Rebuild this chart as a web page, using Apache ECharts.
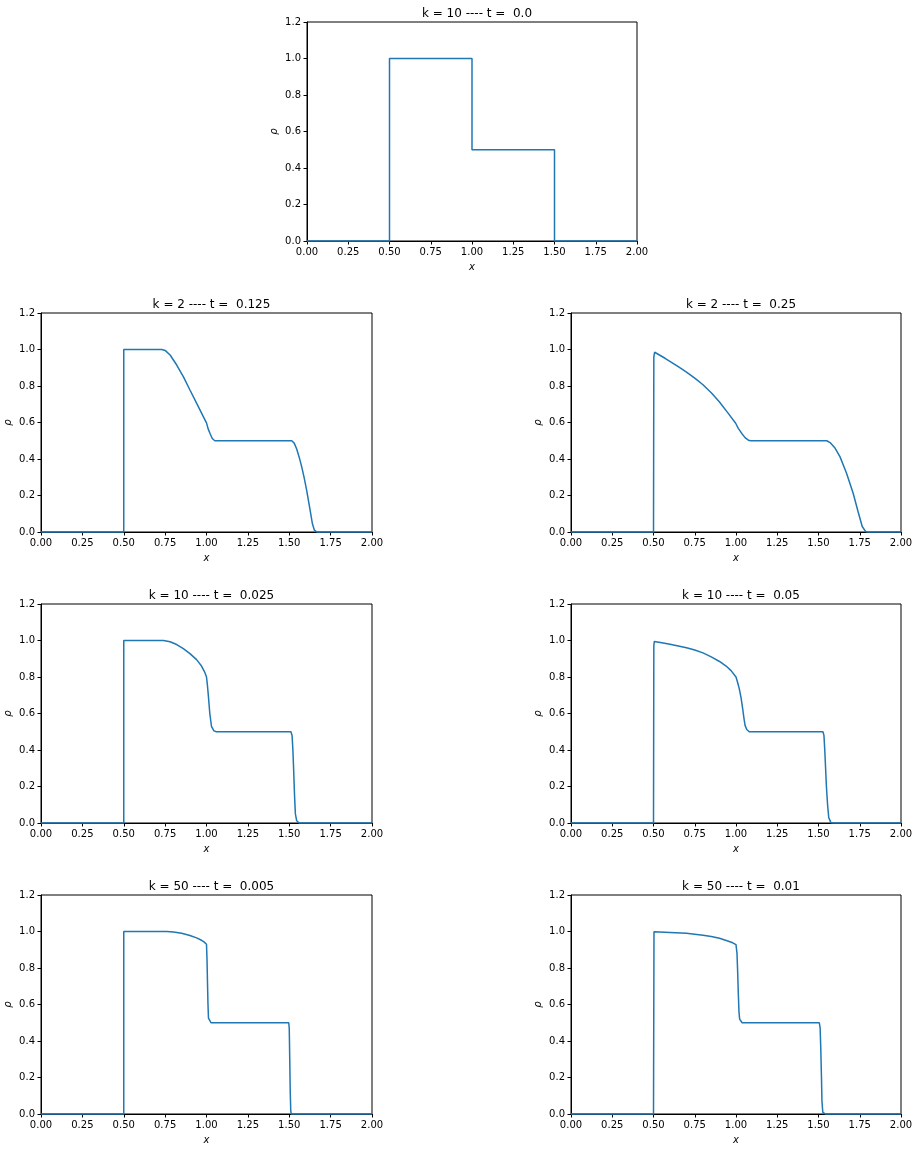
<!DOCTYPE html>
<html>
<head>
<meta charset="utf-8">
<script src="https://cdn.jsdelivr.net/npm/echarts@6/dist/echarts.min.js"></script>
<style>
  html, body { margin: 0; padding: 0; background: #fff; }
  #chart { width: 919px; height: 1149px; }
</style>
</head>
<body>
<div id="chart"></div>
<script>
// tick values shared by every panel
const xTicks = [0, 0.25, 0.5, 0.75, 1.0, 1.25, 1.5, 1.75, 2.0];
const yTicks = [0, 0.2, 0.4, 0.6, 0.8, 1.0, 1.2];

const titles = [
  'k = 10 ---- t =  0.0',
  'k = 2 ---- t =  0.125',
  'k = 2 ---- t =  0.25',
  'k = 10 ---- t =  0.025',
  'k = 10 ---- t =  0.05',
  'k = 50 ---- t =  0.005',
  'k = 50 ---- t =  0.01',
];

// density profiles [x, rho]
// (neighbouring points kept > 2px apart, echarts drops closer ones)
const k10t0 = [[0,0],[0.5,0],[0.5,1],[1.0,1],[1.0,0.5],[1.5,0.5],[1.5,0],[2,0]];

const k2t0125 = [[0,0],[0.5,0],[0.5,1.0],[0.73,1.0],[0.75,0.995],[0.78,0.97],[0.82,0.915],[0.86,0.851],
  [0.9,0.778],[0.94,0.706],[0.98,0.634],[1.0,0.598],[1.01,0.565],[1.022,0.538],[1.035,0.512],[1.05,0.5],
  [1.515,0.5],[1.53,0.487],[1.545,0.455],[1.56,0.41],[1.575,0.358],[1.59,0.298],[1.605,0.23],
  [1.625,0.125],[1.64,0.045],[1.652,0.01],[1.667,0],[2,0]];

const k2t025 = [[0,0],[0.5,0],[0.502,0.96],[0.507,0.985],[0.57,0.952],[0.65,0.906],[0.7,0.876],
  [0.752,0.842],[0.8,0.807],[0.853,0.76],[0.9,0.712],[0.953,0.65],[0.998,0.596],[1.014,0.568],
  [1.035,0.54],[1.055,0.517],[1.075,0.503],[1.09,0.5],[1.55,0.5],[1.57,0.49],[1.6,0.46],[1.63,0.413],
  [1.67,0.322],[1.71,0.212],[1.74,0.111],[1.765,0.03],[1.785,0.003],[1.8,0],[2,0]];

const k10t0025 = [[0,0],[0.5,0],[0.5,1.0],[0.74,1.0],[0.78,0.993],[0.82,0.978],[0.86,0.955],[0.9,0.928],
  [0.94,0.895],[0.97,0.86],[0.99,0.825],[1.0,0.8],[1.005,0.76],[1.012,0.69],[1.02,0.6],[1.03,0.53],
  [1.045,0.505],[1.06,0.5],[1.51,0.5],[1.517,0.48],[1.522,0.4],[1.527,0.28],[1.532,0.15],[1.537,0.05],
  [1.545,0.012],[1.56,0],[2,0]];

const k10t005 = [[0,0],[0.5,0],[0.502,0.97],[0.505,0.995],[0.55,0.988],[0.6,0.98],[0.65,0.97],[0.7,0.96],
  [0.75,0.948],[0.8,0.932],[0.85,0.91],[0.9,0.885],[0.94,0.86],[0.97,0.835],[1.0,0.8],[1.01,0.77],
  [1.02,0.735],[1.03,0.69],[1.04,0.63],[1.048,0.575],[1.055,0.535],[1.065,0.512],[1.08,0.5],[1.527,0.5],
  [1.533,0.48],[1.538,0.4],[1.543,0.3],[1.548,0.2],[1.555,0.1],[1.562,0.03],[1.575,0.002],[1.59,0],[2,0]];

const k50t0005 = [[0,0],[0.5,0],[0.5,1.0],[0.76,1.0],[0.8,0.997],[0.85,0.99],[0.9,0.978],[0.94,0.965],
  [0.97,0.952],[0.985,0.943],[1.0,0.93],[1.003,0.85],[1.006,0.72],[1.009,0.6],[1.012,0.525],[1.027,0.5],
  [1.497,0.5],[1.5,0.47],[1.503,0.3],[1.506,0.12],[1.509,0.02],[1.512,0],[2,0]];

const k50t001 = [[0,0],[0.5,0],[0.503,0.998],[0.6,0.995],[0.7,0.99],[0.8,0.98],[0.85,0.973],
  [0.9,0.963],[0.95,0.948],[0.98,0.938],[1.0,0.928],[1.006,0.88],[1.01,0.78],[1.014,0.66],[1.018,0.56],
  [1.022,0.52],[1.037,0.5],[1.505,0.5],[1.51,0.47],[1.514,0.35],[1.518,0.2],[1.521,0.07],[1.526,0.01],
  [1.541,0],[2,0]];

const profiles = [k10t0, k2t0125, k2t025, k10t0025, k10t005, k50t0005, k50t001];

// panel boxes in pixels: left, top, width, height
const boxes = [
  [307, 22, 330, 219],
  [41, 313, 331, 219], [571, 313, 330, 219],
  [41, 604, 331, 219], [571, 604, 330, 219],
  [41, 895, 331, 219], [571, 895, 330, 219],
];

const FONT = 'DejaVu Sans';
const chart = echarts.init(document.getElementById('chart'));

const grid = [], xAxis = [], yAxis = [], series = [], title = [];
boxes.forEach(([l, t, w, h], i) => {
  grid.push({ left: l, top: t, width: w, height: h, show: true,
    borderColor: '#000', borderWidth: 1, backgroundColor: '#fff' });
  title.push({ text: titles[i], left: l + w / 2, top: t - 19, textAlign: 'center',
    textStyle: { fontFamily: FONT, fontSize: 12, fontWeight: 'normal', color: '#000' } });
  xAxis.push({ type: 'value', gridIndex: i, min: xTicks[0], max: xTicks[xTicks.length - 1], interval: 0.25,
    name: 'x', nameLocation: 'middle', nameGap: 21,
    nameTextStyle: { fontFamily: FONT, fontSize: 10, fontStyle: 'italic', color: '#000' },
    axisLine: { show: true, onZero: false, lineStyle: { color: '#000', width: 1 } },
    axisTick: { show: true, length: 3.5, lineStyle: { color: '#000' } },
    axisLabel: { fontFamily: FONT, fontSize: 10, color: '#000', margin: 6,
      formatter: v => v.toFixed(2) },
    splitLine: { show: false } });
  yAxis.push({ type: 'value', gridIndex: i, min: yTicks[0], max: yTicks[yTicks.length - 1], interval: 0.2,
    name: 'ρ', nameLocation: 'middle', nameGap: 28, nameRotate: 90,
    nameTextStyle: { fontFamily: FONT, fontSize: 10, fontStyle: 'italic', color: '#000' },
    axisLine: { show: true, lineStyle: { color: '#000', width: 1 } },
    axisTick: { show: true, length: 3.5, lineStyle: { color: '#000' } },
    axisLabel: { fontFamily: FONT, fontSize: 10, color: '#000', margin: 6,
      formatter: v => v.toFixed(1) },
    splitLine: { show: false } });
  series.push({ type: 'line', xAxisIndex: i, yAxisIndex: i, data: profiles[i],
    showSymbol: false, symbol: 'none', animation: false, clip: false,
    lineStyle: { color: '#1f77b4', width: 1.5 } });
});

chart.setOption({ animation: false, title, grid, xAxis, yAxis, series });
</script>
</body>
</html>
